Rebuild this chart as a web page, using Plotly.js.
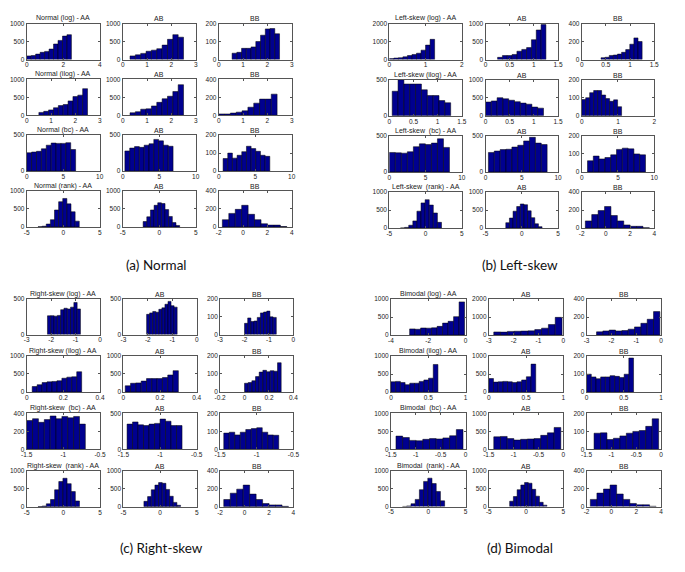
<!DOCTYPE html>
<html><head><meta charset="utf-8">
<script src="https://cdn.plot.ly/plotly-3.0.1.min.js"></script>
<style>html,body{margin:0;padding:0;background:#fff}#chart{width:685px;height:572px}</style>
</head><body><div id="chart"></div>
<script>
// ---- tick label sets ----
const X_0_4 = [0, 2, 4];
const X_0_3 = [0, 1, 2, 3];
const X_0_10 = [0, 5, 10];
const X_m5_5 = [-5, 0, 5];
const X_m2_4 = [-2, 0, 2, 4];
const X_0_2 = [0, 1, 2];
const X_0_15 = [0, 0.5, 1, 1.5];
const X_m3_0 = [-3, -2, -1, 0];
const X_0_04 = [0, 0.2, 0.4];
const X_m02_04 = [-0.2, 0, 0.2, 0.4];
const X_m15_m05 = [-1.5, -1, -0.5];
const X_m4_0 = [-4, -2, 0];
const X_0_1 = [0, 0.5, 1];
const X_m15_0 = [-1.5, -1, -0.5, 0];
const Y_1000 = [0, 500, 1000];
const Y_500 = [0, 500];
const Y_200 = [0, 100, 200];
const Y_400 = [0, 200, 400];
const Y_2000 = [0, 1000, 2000];

// ---- histogram data: [first edge, last edge] and bin counts ----
// (a) Normal
const nLogAA_edges = [0, 2.45];   const nLogAA = [100, 110, 150, 200, 225, 290, 430, 530, 650, 690];
const nLogAB_edges = [0.3, 2.5];  const nLogAB = [100, 130, 170, 230, 260, 300, 400, 560, 690, 620];
const nLogBB_edges = [0.55, 2.5]; const nLogBB = [35, 40, 62, 62, 70, 100, 135, 170, 172, 143];
const nIlogAA_edges = [0.5, 2.5]; const nIlogAA = [80, 110, 150, 210, 270, 300, 400, 520, 560, 740];
const nIlogAB_edges = [0.3, 2.5]; const nIlogAB = [70, 100, 170, 180, 260, 360, 460, 530, 660, 850];
const nIlogBB_edges = [0, 2.4];   const nIlogBB = [15, 15, 25, 35, 50, 90, 135, 180, 180, 235];
const nBcAA_edges = [0, 6.7];     const nBcAA = [255, 265, 275, 310, 360, 390, 385, 385, 395, 300];
const nBcAB_edges = [0.3, 6.9];   const nBcAB = [280, 320, 340, 330, 360, 380, 440, 420, 360, 345];
const nBcBB_edges = [0.6, 7];     const nBcBB = [70, 100, 72, 88, 108, 138, 125, 110, 88, 82];
// rank rows (identical in all four panels)
const rankAA_edges = [-3.45, 2.2]; const rankAA = [5, 20, 80, 200, 470, 700, 790, 640, 420, 160];
const rankAB_edges = [-2.2, 2.8];  const rankAB = [150, 280, 470, 600, 670, 650, 480, 290, 120, 40];
const rankBB_edges = [-1.7, 3.6];  const rankBB = [80, 150, 195, 240, 140, 80, 35, 20, 20, 4];
// (b) Left-skew
const lLogAA_edges = [0, 1.25];     const lLogAA = [50, 80, 100, 150, 220, 280, 350, 520, 800, 1120];
const lLogAB_edges = [0.25, 1.25];  const lLogAB = [60, 110, 110, 140, 230, 280, 330, 550, 820, 970];
const lLogBB_edges = [0.4, 1.25];   const lLogBB = [20, 25, 45, 50, 60, 80, 110, 170, 240, 200];
const lIlogAA_edges = [0.06, 1.27]; const lIlogAA = [340, 500, 440, 440, 440, 360, 280, 280, 210, 180];
const lIlogAB_edges = [0, 1.2];     const lIlogAB = [380, 410, 500, 470, 430, 390, 350, 320, 240, 210];
const lIlogBB_edges = [0, 1.1];     const lIlogBB = [90, 100, 128, 140, 140, 115, 95, 80, 88, 50];
const lBcAA_edges = [0, 8.3];       const lBcAA = [270, 265, 260, 280, 350, 390, 380, 400, 460, 340];
const lBcAB_edges = [0.4, 8.5];     const lBcAB = [270, 290, 310, 315, 345, 370, 430, 480, 400, 380];
const lBcBB_edges = [0.8, 8.8];     const lBcBB = [62, 88, 72, 80, 95, 125, 132, 128, 100, 95];
// (c) Right-skew
const rLogAA_edges = [-2.15, -0.8]; const rLogAA = [260, 262, 255, 265, 345, 365, 355, 380, 445, 355];
const rLogAB_edges = [-2.05, -0.8]; const rLogAB = [280, 300, 320, 310, 350, 370, 420, 460, 400, 380];
const rLogBB_edges = [-2, -0.7];    const rLogBB = [62, 92, 72, 75, 95, 120, 125, 130, 98, 95];
const rIlogAA_edges = [0.03, 0.3];  const rIlogAA = [150, 200, 260, 280, 290, 310, 380, 410, 420, 560];
const rIlogAB_edges = [0.01, 0.3];  const rIlogAB = [170, 240, 250, 300, 370, 370, 370, 400, 470, 590];
const rIlogBB_edges = [0, 0.3];     const rIlogBB = [48, 52, 62, 85, 110, 120, 112, 118, 115, 162];
const rBcAA_edges = [-1.5, -0.7];   const rBcAA = [320, 340, 300, 330, 370, 340, 365, 350, 365, 280];
const rBcAB_edges = [-1.45, -0.7];  const rBcAB = [350, 380, 340, 330, 350, 360, 420, 390, 330, 330];
const rBcBB_edges = [-1.45, -0.7];  const rBcBB = [90, 95, 80, 95, 110, 115, 120, 95, 80, 78];
// (d) Bimodal
const bLogAA_edges = [-3, -0.05];    const bLogAA = [170, 160, 195, 190, 200, 240, 330, 380, 510, 920];
const bLogAB_edges = [-2.8, -0.05];  const bLogAB = [170, 160, 200, 210, 220, 230, 300, 380, 580, 980];
const bLogBB_edges = [-2.6, -0.05];  const bLogBB = [35, 45, 55, 45, 50, 65, 90, 130, 175, 260];
const bIlogAA_edges = [0, 0.63];     const bIlogAA = [290, 300, 270, 210, 250, 250, 300, 340, 390, 770];
const bIlogAB_edges = [0, 0.63];     const bIlogAB = [380, 280, 290, 300, 290, 270, 290, 340, 430, 780];
const bIlogBB_edges = [0, 0.63];     const bIlogBB = [100, 85, 75, 85, 85, 92, 88, 82, 100, 190];
const bBcAA_edges = [-1.4, -0.05];   const bBcAA = [370, 330, 250, 240, 280, 300, 290, 320, 380, 550];
const bBcAB_edges = [-1.4, -0.05];   const bBcAB = [350, 360, 300, 260, 280, 290, 300, 390, 460, 610];
const bBcBB_edges = [-1.35, -0.05];  const bBcBB = [90, 92, 55, 62, 75, 90, 100, 105, 128, 170];

// ---- panel definitions (built from the arrays above) ----
const panels = [
  {caption: '(a) Normal', name: 'Normal', x0: 26.7, dx: 96, w: 73, y0: 23.5, dy: 55.8,
   rows: [
    ['(log)',  [[nLogAA_edges, nLogAA, X_0_4, Y_1000], [nLogAB_edges, nLogAB, X_0_3, Y_1000], [nLogBB_edges, nLogBB, X_0_3, Y_200]]],
    ['(ilog)', [[nIlogAA_edges, nIlogAA, X_0_3, Y_1000], [nIlogAB_edges, nIlogAB, X_0_3, Y_1000], [nIlogBB_edges, nIlogBB, X_0_3, Y_400]]],
    ['(bc)',   [[nBcAA_edges, nBcAA, X_0_10, Y_500], [nBcAB_edges, nBcAB, X_0_10, Y_500], [nBcBB_edges, nBcBB, X_0_10, Y_200]]],
    ['(rank)', [[rankAA_edges, rankAA, X_m5_5, Y_1000], [rankAB_edges, rankAB, X_m5_5, Y_1000], [rankBB_edges, rankBB, X_m2_4, Y_400]]]
   ], capX: 156, capY: 265},
  {caption: '(b) Left-skew', name: 'Left-skew', x0: 389.3, dx: 96.2, w: 72.5, y0: 23.5, dy: 56.2,
   rows: [
    ['(log)',  [[lLogAA_edges, lLogAA, X_0_2, Y_2000], [lLogAB_edges, lLogAB, X_0_15, Y_1000], [lLogBB_edges, lLogBB, X_0_15, Y_400]]],
    ['(ilog)', [[lIlogAA_edges, lIlogAA, X_0_15, Y_500], [lIlogAB_edges, lIlogAB, X_0_15, Y_1000], [lIlogBB_edges, lIlogBB, X_0_2, Y_200]]],
    [' (bc)',  [[lBcAA_edges, lBcAA, X_0_10, Y_500], [lBcAB_edges, lBcAB, X_0_10, Y_500], [lBcBB_edges, lBcBB, X_0_10, Y_200]]],
    [' (rank)',[[rankAA_edges, rankAA, X_m5_5, Y_1000], [rankAB_edges, rankAB, X_m5_5, Y_1000], [rankBB_edges, rankBB, X_m2_4, Y_400]]]
   ], capX: 520, capY: 265},
  {caption: '(c) Right-skew', name: 'Right-skew', x0: 26.7, dx: 96.7, w: 73.3, y0: 298.5, dy: 57.4,
   rows: [
    ['(log)',  [[rLogAA_edges, rLogAA, X_m3_0, Y_500], [rLogAB_edges, rLogAB, X_m3_0, Y_500], [rLogBB_edges, rLogBB, X_m3_0, Y_200]]],
    ['(ilog)', [[rIlogAA_edges, rIlogAA, X_0_04, Y_1000], [rIlogAB_edges, rIlogAB, X_0_04, Y_1000], [rIlogBB_edges, rIlogBB, X_m02_04, Y_200]]],
    [' (bc)',  [[rBcAA_edges, rBcAA, X_m15_m05, Y_400], [rBcAB_edges, rBcAB, X_m15_m05, Y_500], [rBcBB_edges, rBcBB, X_m15_m05, Y_200]]],
    [' (rank)',[[rankAA_edges, rankAA, X_m5_5, Y_1000], [rankAB_edges, rankAB, X_m5_5, Y_1000], [rankBB_edges, rankBB, X_m2_4, Y_400]]]
   ], capX: 161, capY: 548},
  {caption: '(d) Bimodal', name: 'Bimodal', x0: 391, dx: 97.8, w: 74.5, y0: 299, dy: 57.2,
   rows: [
    ['(log)',  [[bLogAA_edges, bLogAA, X_m4_0, Y_1000], [bLogAB_edges, bLogAB, X_m3_0, Y_2000], [bLogBB_edges, bLogBB, X_m3_0, Y_400]]],
    ['(ilog)', [[bIlogAA_edges, bIlogAA, X_0_1, Y_1000], [bIlogAB_edges, bIlogAB, X_0_1, Y_1000], [bIlogBB_edges, bIlogBB, X_0_1, Y_200]]],
    [' (bc)',  [[bBcAA_edges, bBcAA, X_m15_0, Y_1000], [bBcAB_edges, bBcAB, X_m15_0, Y_1000], [bBcBB_edges, bBcBB, X_m15_0, Y_200]]],
    [' (rank)',[[rankAA_edges, rankAA, X_m5_5, Y_1000], [rankAB_edges, rankAB, X_m5_5, Y_1000], [rankBB_edges, rankBB, X_m2_4, Y_400]]]
   ], capX: 520, capY: 548}
];
const colNames = ['AA', 'AB', 'BB'];

// ---- build figure ----
const W = 685, H = 572, AXH = 36;
const tickFont = {family: 'Liberation Sans, Arial, sans-serif', size: 6.5, color: '#222'};
const traces = [];
const layout = {
  width: W, height: H, margin: {l: 0, r: 0, t: 0, b: 0},
  paper_bgcolor: '#fff', plot_bgcolor: '#fff', showlegend: false,
  annotations: [], font: tickFont
};
let n = 0;
panels.forEach(p => {
  p.rows.forEach((row, ri) => {
    row[1].forEach((cell, ci) => {
      n += 1;
      const [edges, counts, xt, yt] = cell;
      const bw = (edges[1] - edges[0]) / counts.length;
      const xs = counts.map((_, i) => edges[0] + (i + 0.5) * bw);
      const xa = 'xaxis' + (n === 1 ? '' : n), ya = 'yaxis' + (n === 1 ? '' : n);
      const xr = 'x' + (n === 1 ? '' : n), yr = 'y' + (n === 1 ? '' : n);
      traces.push({
        type: 'bar', x: xs, y: counts, width: counts.map(() => bw),
        xaxis: xr, yaxis: yr, hoverinfo: 'skip',
        marker: {color: '#00008F', line: {color: '#000', width: 0.5}}
      });
      const left = p.x0 + ci * p.dx, top = p.y0 + ri * p.dy;
      const common = {
        showgrid: false, zeroline: false, showline: true, linecolor: '#555', linewidth: 1,
        mirror: 'ticks', ticks: 'inside', ticklen: 2, tickcolor: '#555', tickwidth: 1,
        tickfont: tickFont, fixedrange: true, tickmode: 'array'
      };
      layout[xa] = Object.assign({}, common, {
        domain: [left / W, (left + p.w) / W], anchor: yr, ticklabelstandoff: -1,
        range: [xt[0], xt[xt.length - 1]], tickvals: xt, ticktext: xt.map(String)
      });
      layout[ya] = Object.assign({}, common, {
        domain: [1 - (top + AXH) / H, 1 - top / H], anchor: xr,
        range: [yt[0], yt[yt.length - 1]], tickvals: yt, ticktext: yt.map(String)
      });
      const title = ci === 0 ? (p.name + ' ' + row[0] + ' - AA') : colNames[ci];
      layout.annotations.push({
        text: title, xref: 'paper', yref: 'paper',
        x: (left + p.w / 2) / W, y: 1 - top / H, xanchor: 'center', yanchor: 'bottom',
        yshift: -1, showarrow: false,
        font: {family: 'Liberation Sans, Arial, sans-serif', size: 7, color: '#222'}
      });
    });
  });
  layout.annotations.push({
    text: p.caption, xref: 'paper', yref: 'paper',
    x: p.capX / W, y: 1 - p.capY / H, xanchor: 'center', yanchor: 'middle', showarrow: false,
    font: {family: 'Lato, Carlito, sans-serif', size: 13.5, color: '#111'}
  });
});
Plotly.newPlot('chart', traces, layout, {staticPlot: true, displayModeBar: false});
</script>
</body></html>
